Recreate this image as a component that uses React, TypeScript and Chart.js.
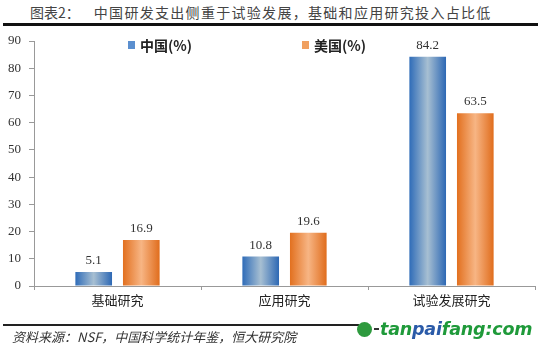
import React, { useEffect, useRef } from "react";
import { Chart, registerables } from "chart.js";

Chart.register(...registerables);

const categories = ["基础研究", "应用研究", "试验发展研究"];
const chinaValues = [5.1, 10.8, 84.2];
const usValues = [16.9, 19.6, 63.5];
const seriesNames = ["中国(%)", "美国(%)"];
const yTicks = [0, 10, 20, 30, 40, 50, 60, 70, 80, 90];

const CAT_PCT = 0.57;
const BAR_PCT = 0.77;

const palettes = [
  ["#2f6cb8", "#a7bfd2", "#2d68b4"],
  ["#e2701f", "#f7b584", "#e06d1d"],
];

function gradientFor(dsIndex: number) {
  return (ctx: any) => {
    const chart = ctx.chart;
    const xs = chart.scales && chart.scales.x;
    const p = palettes[dsIndex];
    if (!xs || ctx.type !== "data" || !chart.chartArea) return p[0];
    const catW = xs.width / categories.length;
    const group = catW * CAT_PCT;
    const slot = group / 2;
    const center = xs.getPixelForValue(ctx.dataIndex);
    const left = center - group / 2 + slot * dsIndex + (slot * (1 - BAR_PCT)) / 2;
    const w = slot * BAR_PCT;
    const g = chart.ctx.createLinearGradient(left, 0, left + w, 0);
    g.addColorStop(0, p[0]);
    g.addColorStop(0.5, p[1]);
    g.addColorStop(1, p[2]);
    return g;
  };
}

const valueLabels = {
  id: "valueLabels",
  afterDatasetsDraw(chart: any) {
    const c = chart.ctx;
    c.save();
    c.font = "13px 'Liberation Serif'";
    c.fillStyle = "#333";
    c.textAlign = "center";
    c.textBaseline = "bottom";
    chart.data.datasets.forEach((ds: any, i: number) => {
      const meta = chart.getDatasetMeta(i);
      meta.data.forEach((bar: any, j: number) => {
        c.fillText(String(ds.data[j]), bar.x, bar.y - 5);
      });
    });
    c.restore();
  },
};

export default function App() {
  const ref = useRef<HTMLCanvasElement>(null);
  useEffect(() => {
    if (!ref.current) return;
    const chart = new Chart(ref.current, {
      type: "bar",
      data: {
        labels: categories,
        datasets: [
          { label: seriesNames[0], data: chinaValues, backgroundColor: gradientFor(0) as any },
          { label: seriesNames[1], data: usValues, backgroundColor: gradientFor(1) as any },
        ],
      },
      options: {
        animation: false,
        responsive: false,
        maintainAspectRatio: false,
        events: [],
        layout: { padding: { top: 41, right: 8, bottom: 0, left: 0 } },
        datasets: { bar: { categoryPercentage: CAT_PCT, barPercentage: BAR_PCT } },
        plugins: { legend: { display: false }, tooltip: { enabled: false } },
        scales: {
          x: {
            grid: { drawOnChartArea: false, drawTicks: true, tickLength: 4, color: "#999", offset: true },
            border: { display: true, color: "#999" },
            ticks: { color: "#222", font: { family: "'Noto Sans CJK SC'", size: 13 }, padding: 2 },
            afterFit: (s: any) => { s.height = 64; },
          },
          y: {
            min: 0,
            max: 90,
            afterBuildTicks: (s: any) => { s.ticks = yTicks.map((v) => ({ value: v })); },
            grid: { drawOnChartArea: false, drawTicks: true, tickLength: 5, color: "#999" },
            border: { display: true, color: "#999" },
            ticks: { color: "#333", font: { family: "'Liberation Serif'", size: 13 }, padding: 8 },
            afterFit: (s: any) => { s.width = 34; },
          },
        },
      },
      plugins: [valueLabels],
    });
    return () => chart.destroy();
  }, []);

  const legendItem = (color: string, text: string, left: number) => (
    <div style={{ position: "absolute", left, top: 36, display: "flex", alignItems: "center", height: 18 }}>
      <span style={{ display: "inline-block", width: 7, height: 8, background: color, marginRight: 5 }} />
      <span style={{ fontFamily: "'Noto Sans CJK SC', 'Liberation Serif'", fontWeight: 700, fontSize: 14, color: "#222" }}>{text}</span>
    </div>
  );

  return (
    <div style={{ position: "fixed", left: 0, top: 0, width: 543, height: 350, background: "#fff", overflow: "hidden" }}>
      <div style={{ position: "absolute", left: 30, top: 2, fontFamily: "'Noto Sans CJK SC'", fontSize: 14, color: "#444", whiteSpace: "nowrap", lineHeight: "20px" }}>
        图表2：<span style={{ marginLeft: 14, letterSpacing: 1.3 }}>中国研发支出侧重于试验发展，基础和应用研究投入占比低</span>
      </div>
      <div style={{ position: "absolute", left: 3, top: 23, width: 535, height: 3, background: "#111" }} />
      <canvas ref={ref} width={543} height={350} style={{ position: "absolute", left: 0, top: 0, width: 543, height: 350 }} />
      {legendItem("#5b8fcf", seriesNames[0], 128)}
      {legendItem("#f0a060", seriesNames[1], 302)}
      <div style={{ position: "absolute", left: 3, top: 324, width: 356, height: 2, background: "#222" }} />
      <div style={{ position: "absolute", left: 12, top: 327, fontFamily: "'Noto Sans CJK SC'", fontStyle: "italic", fontSize: 13, color: "#333", whiteSpace: "nowrap", lineHeight: "20px" }}>
        资料来源：NSF，中国科学统计年鉴，恒大研究院
      </div>
      <div style={{ position: "absolute", left: 357, top: 319, display: "flex", alignItems: "center", whiteSpace: "nowrap" }}>
        <span style={{ display: "inline-block", width: 15, height: 15, borderRadius: 8, background: "#2e9a3e", marginRight: 2 }} />
        <span style={{ display: "inline-block", width: 5, height: 2, background: "#333", marginRight: 1 }} />
        <span style={{ fontFamily: "'DejaVu Sans'", fontWeight: 700, fontStyle: "italic", fontSize: 17.5, letterSpacing: -0.2 }}>
          <span style={{ color: "#1f9a3a" }}>tan</span>
          <span style={{ color: "#2a5aa8" }}>pai</span>
          <span style={{ color: "#1f9a3a" }}>fang:com</span>
        </span>
      </div>
    </div>
  );
}
